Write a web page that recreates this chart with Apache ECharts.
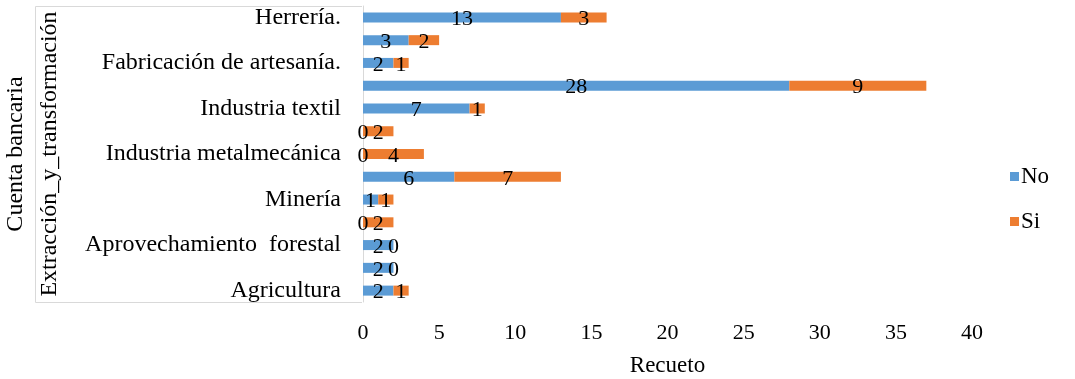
<!DOCTYPE html>
<html>
<head>
<meta charset="utf-8">
<script src="https://cdn.jsdelivr.net/npm/echarts@6/dist/echarts.min.js"></script>
<style>
  html, body { margin: 0; padding: 0; background: #fff; }
  #chart { width: 1075px; height: 379px; }
</style>
</head>
<body>
<div id="chart"></div>
<script>
// Activity categories, listed top to bottom
const categories = [
  'Herrería.',
  'Carpintería',
  'Fabricación de artesanía.',
  'Elaboración de alimentos',
  'Industria textil',
  'Construcción',
  'Industria metalmecánica',
  'Comercio',
  'Minería',
  'Pesca',
  'Aprovechamiento  forestal',
  'Ganadería',
  'Agricultura'
];
// Counts per answer
const noValues = [13, 3, 2, 28, 7, 0, 0, 6, 1, 0, 2, 2, 2];
const siValues = [3, 2, 1, 9, 1, 2, 4, 7, 1, 2, 0, 0, 1];
const xTicks = { min: 0, max: 40, interval: 5 };
const groupLabel = 'Extracción_y_transformación';

const FONT = '"Liberation Serif", "Times New Roman", serif';
const chart = echarts.init(document.getElementById('chart'), null, { renderer: 'canvas' });

const labelStyle = {
  show: true,
  position: 'inside',
  color: '#000',
  fontFamily: FONT,
  fontSize: 22,
  offset: [0, 2]
};

chart.setOption({
  animation: false,
  grid: { left: 363, right: 103, top: 6, bottom: 77, containLabel: false, outerBoundsMode: 'none' },
  legend: {
    orient: 'vertical',
    left: 1005,
    top: 160,
    itemWidth: 9,
    itemHeight: 9,
    itemGap: 22,
    icon: 'rect',
    textStyle: { fontFamily: FONT, fontSize: 23, color: '#000', padding: [0, 0, 0, -3] },
    data: ['No', 'Si']
  },
  xAxis: {
    type: 'value',
    min: xTicks.min,
    max: xTicks.max,
    interval: xTicks.interval,
    axisLine: { show: false },
    axisTick: { show: false },
    splitLine: { show: false },
    axisLabel: { fontFamily: FONT, fontSize: 22, color: '#000', margin: 20 },
    name: 'Recueto',
    nameLocation: 'middle',
    nameGap: 52,
    nameTextStyle: { fontFamily: FONT, fontSize: 23, color: '#000' }
  },
  yAxis: {
    type: 'category',
    data: categories,
    inverse: true,
    axisLine: { show: true, lineStyle: { color: '#d9d9d9', width: 1 } },
    axisTick: { show: false },
    axisLabel: {
      interval: 1,
      fontFamily: FONT,
      fontSize: 24,
      color: '#000',
      margin: 22
    },
    name: 'Cuenta bancaria',
    nameLocation: 'middle',
    nameGap: 335,
    nameRotate: 90,
    nameTextStyle: { fontFamily: FONT, fontSize: 24, color: '#000' }
  },
  graphic: [
    {
      type: 'polyline',
      shape: { points: [[362, 6.5], [35.5, 6.5], [35.5, 302.5], [362, 302.5]] },
      style: { stroke: '#d9d9d9', lineWidth: 1, fill: null },
      silent: true
    },
    {
      type: 'text',
      x: 50,
      y: 154,
      rotation: Math.PI / 2,
      style: {
        text: groupLabel,
        fontFamily: FONT,
        fontSize: 24,
        fill: '#000',
        align: 'center',
        verticalAlign: 'middle'
      },
      silent: true
    }
  ],
  series: [
    {
      name: 'No',
      type: 'bar',
      stack: 'total',
      barWidth: 10,
      data: noValues,
      itemStyle: { color: '#5B9BD5' },
      label: labelStyle
    },
    {
      name: 'Si',
      type: 'bar',
      stack: 'total',
      barWidth: 10,
      data: siValues,
      itemStyle: { color: '#ED7D31' },
      label: labelStyle
    }
  ]
});
</script>
</body>
</html>
